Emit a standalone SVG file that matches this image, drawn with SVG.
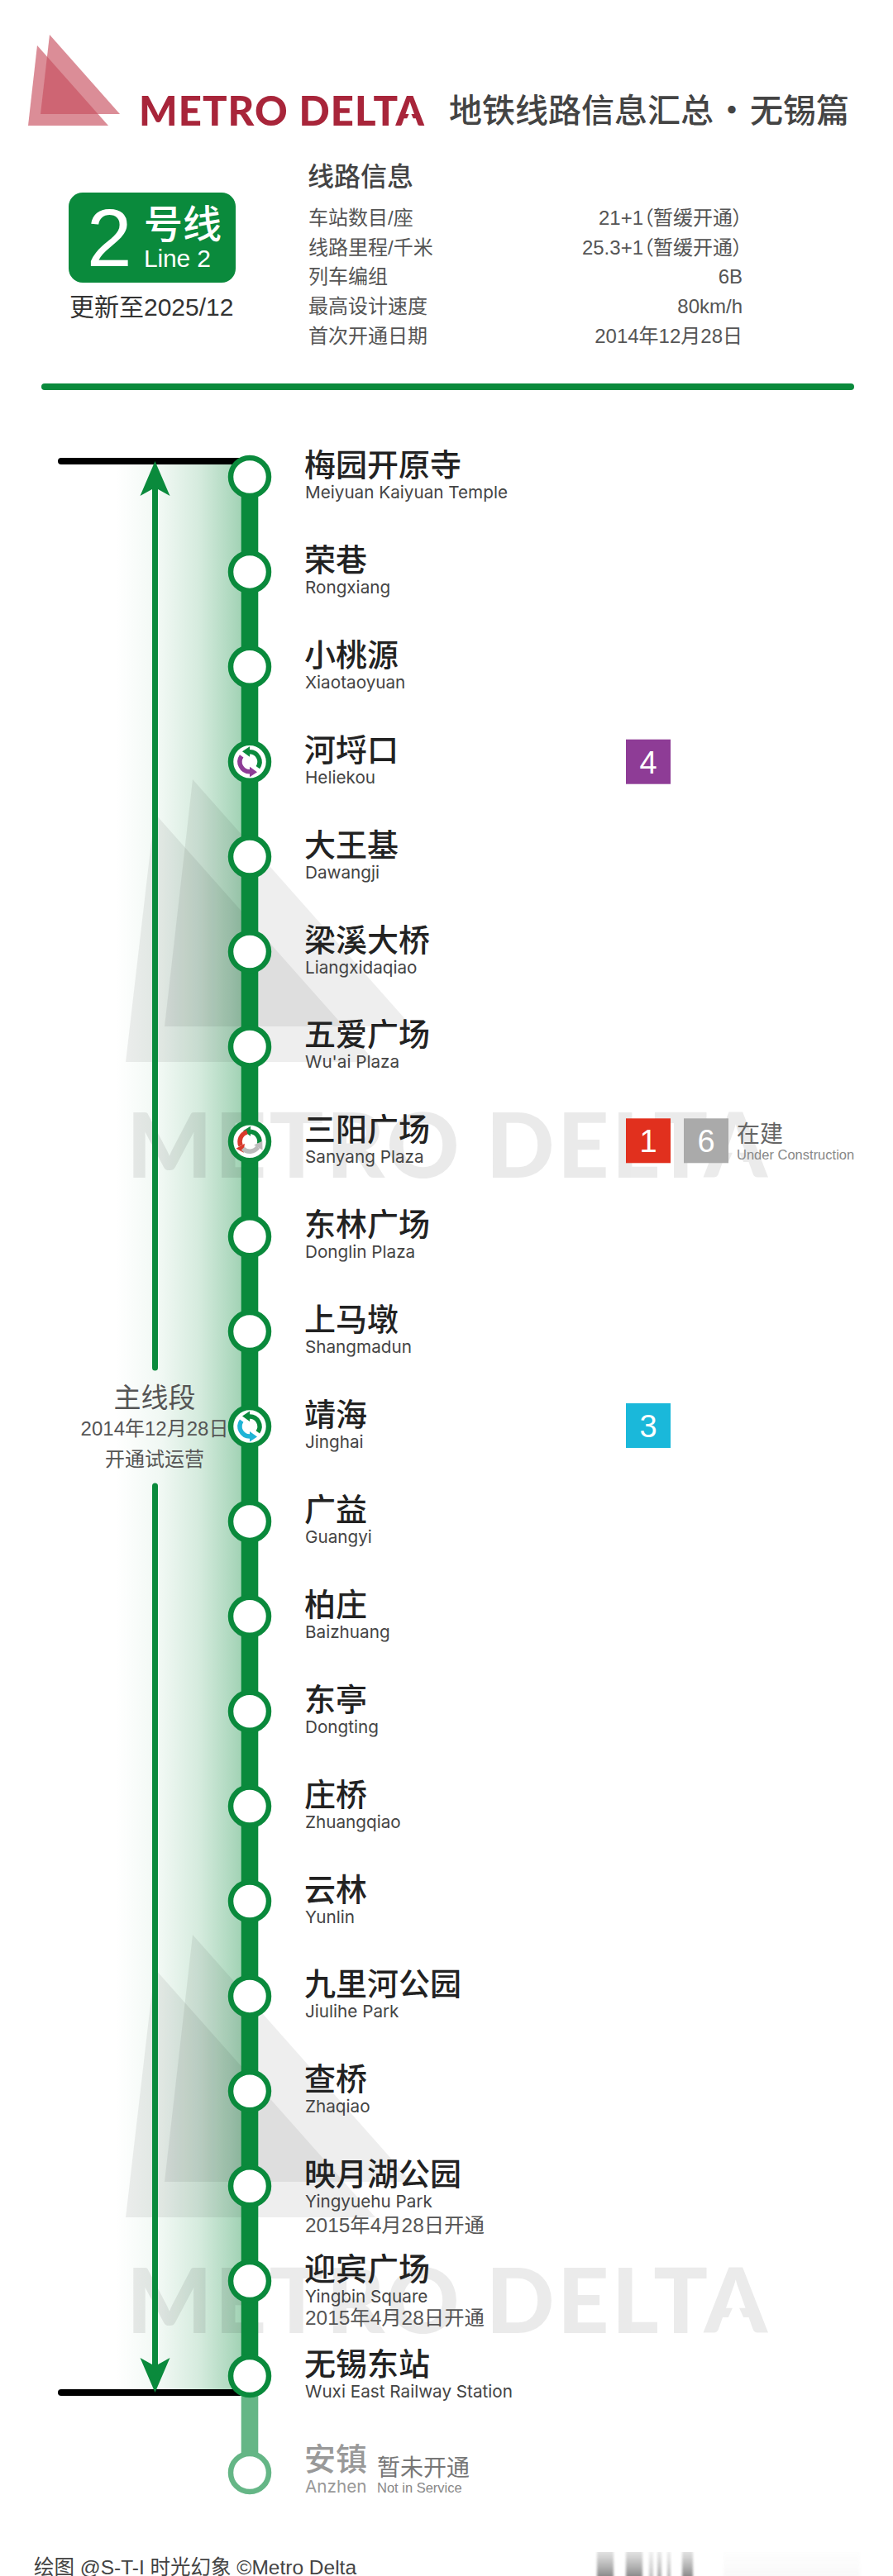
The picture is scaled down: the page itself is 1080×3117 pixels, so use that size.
<svg xmlns="http://www.w3.org/2000/svg" width="1080" height="3117" viewBox="0 0 1080 3117">
<style>
text{font-family:"Liberation Sans","Noto Sans CJK SC",sans-serif}
.cjk{font-family:"Noto Sans CJK SC",sans-serif}
.brand{font-family:Lato,"Liberation Sans",sans-serif;font-weight:900}
.nm{font-family:"Noto Sans CJK SC",sans-serif;font-size:38px;fill:#222;font-weight:500}
.en{font-family:Inter,"Liberation Sans",sans-serif;font-size:20.7px;fill:#444}
.dt{font-size:24.4px;fill:#555}
.lb{font-size:24px;fill:#555}
.vl{font-size:24px;fill:#555;text-anchor:end;font-feature-settings:"palt"}
.ring{fill:#fff;stroke:#0a8a3c;stroke-width:6.5}
.num{font-size:38px;fill:#fff;text-anchor:middle}
.wm{fill:#000;opacity:.065}
.wmt{fill:#000;opacity:.08;font-size:109px}
.blur{fill:url(#fade);filter:url(#soft)}
</style>
<defs>
<linearGradient id="glow" gradientUnits="userSpaceOnUse" x1="140" y1="0" x2="302" y2="0">
<stop offset="0" stop-color="#0a8a3c" stop-opacity="0"/>
<stop offset=".34" stop-color="#0a8a3c" stop-opacity=".06"/>
<stop offset=".62" stop-color="#0a8a3c" stop-opacity=".17"/>
<stop offset="1" stop-color="#0a8a3c" stop-opacity=".42"/>
</linearGradient>
<linearGradient id="fade" x1="0" y1="0" x2="0" y2="1">
<stop offset="0" stop-color="#888" stop-opacity=".25"/>
<stop offset="1" stop-color="#666" stop-opacity=".75"/>
</linearGradient>
<filter id="soft" x="-50%" y="0" width="200%" height="100%"><feGaussianBlur stdDeviation="1.5 0"/></filter>
<clipPath id="noBarBig"><path clip-rule="evenodd" d="M0,1200 H1080 V1500 H0z M872,1426 L908,1426 L892,1390 L888,1390z"/></clipPath>
<clipPath id="noBarSmall"><path clip-rule="evenodd" d="M0,90 H1080 V170 H0z M488,153 L504,153 L497,137 L495,137z"/></clipPath>
<marker id="head" markerUnits="userSpaceOnUse" markerWidth="44" markerHeight="40" viewBox="0 -20 44 40" refX="10" refY="0" orient="auto">
<path d="M0,-18 L42,0 L0,18 L10,0z" fill="#0a8a3c"/>
</marker>
<g id="a2"><path d="M9.8,6.9 A12,12 0 0 0 0,-12" fill="none" stroke-width="5.5"/><path d="M-9,-12.5 L0,-18.5 L0,-6z" stroke="none"/></g>
<g id="a3"><path d="M11.5,3 A12,12 0 0 0 1,-12" fill="none" stroke-width="5.5"/><path d="M-8,-13 L1,-18.5 L1,-6.5z" stroke="none"/></g>
<g id="wmark">
<path class="wm" d="M152,1285 L187,984 L454,1285z"/>
<path class="wm" d="M199,1242 L233,943 L498,1242z"/>
<text class="brand wmt" x="153" y="1425" textLength="775" lengthAdjust="spacing" clip-path="url(#noBarBig)">METRO DELTA</text>
</g>
</defs>
<rect width="1080" height="3117" fill="#fff"/>
<g id="logo">
<path d="M34,152 L45,55 L131,152z" fill="#c8505f" opacity=".65"/>
<path d="M49,138 L60,42 L145,138z" fill="#c8505f" opacity=".65"/>
<text class="brand" x="168" y="152" font-size="49" fill="#a8253a" textLength="345" lengthAdjust="spacing" clip-path="url(#noBarSmall)">METRO DELTA</text>
<text class="cjk" x="543" y="148" font-size="40" font-weight="500" fill="#444" word-spacing="-7">地铁线路信息汇总 · 无锡篇</text>
</g>
<g id="line-badge">
<rect x="83" y="233" width="202" height="109" rx="17" fill="#0a8a3c"/>
<text x="105" y="322" font-size="98" fill="#fff">2</text>
<text class="cjk" x="174" y="288" font-size="47" font-weight="500" fill="#fff">号线</text>
<text x="174" y="323" font-size="30" fill="#fff" textLength="81" lengthAdjust="spacing">Line 2</text>
<text x="84" y="382" font-size="30" fill="#333">更新至2025/12</text>
</g>
<g id="info">
<text class="cjk" x="372" y="225" font-size="32" font-weight="500" fill="#444">线路信息</text>
<text class="lb" x="373" y="272">车站数目/座</text><text class="vl" x="898" y="272">21+1（暂缓开通）</text>
<text class="lb" x="373" y="308">线路里程/千米</text><text class="vl" x="898" y="308">25.3+1（暂缓开通）</text>
<text class="lb" x="373" y="343">列车编组</text><text class="vl" x="898" y="343">6B</text>
<text class="lb" x="373" y="379">最高设计速度</text><text class="vl" x="898" y="379">80km/h</text>
<text class="lb" x="373" y="415">首次开通日期</text><text class="vl" x="898" y="415">2014年12月28日</text>
</g>
<rect id="divider" x="50" y="464" width="983" height="8" rx="4" fill="#0a8a3c"/>
<rect id="glow-band" x="140" y="558" width="162" height="2337" fill="url(#glow)"/>
<g id="watermarks"><use href="#wmark"/><use href="#wmark" y="1398"/></g>
<g id="connectors">
<line x1="74" y1="558" x2="290" y2="558" stroke="#000" stroke-width="8" stroke-linecap="round"/>
<line x1="74" y1="2895" x2="290" y2="2895" stroke="#000" stroke-width="8" stroke-linecap="round"/>
<line x1="187.5" y1="1655" x2="187.5" y2="590" stroke="#0a8a3c" stroke-width="7" stroke-linecap="round" marker-end="url(#head)"/>
<line x1="187.5" y1="1798" x2="187.5" y2="2863" stroke="#0a8a3c" stroke-width="7" stroke-linecap="round" marker-end="url(#head)"/>
<line x1="302" y1="577" x2="302" y2="2875" stroke="#0a8a3c" stroke-width="20.6"/>
<line x1="302" y1="2875" x2="302" y2="2992" stroke="#65b686" stroke-width="20.6"/>
</g>
<g id="span-label" text-anchor="middle">
<text class="cjk" x="187" y="1703" font-size="33" fill="#555">主线段</text>
<text x="187" y="1737" font-size="24" fill="#555">2014年12月28日</text>
<text x="187" y="1774" font-size="24" fill="#555">开通试运营</text>
</g>
<g id="st-meiyuan" transform="translate(0,577)"><circle class="ring" cx="302" r="23"/><text class="nm" x="368" y="-1">梅园开原寺</text><text class="en" x="369" y="26">Meiyuan Kaiyuan Temple</text></g>
<g id="st-rongxiang" transform="translate(0,691.9)"><circle class="ring" cx="302" r="23"/><text class="nm" x="368" y="-1">荣巷</text><text class="en" x="369" y="26">Rongxiang</text></g>
<g id="st-xiaotaoyuan" transform="translate(0,806.8)"><circle class="ring" cx="302" r="23"/><text class="nm" x="368" y="-1">小桃源</text><text class="en" x="369" y="26">Xiaotaoyuan</text></g>
<g id="st-heliekou" transform="translate(0,921.7)"><circle class="ring" cx="302" r="23"/><use href="#a2" x="302" stroke="#0a8a3c" fill="#0a8a3c"/><use href="#a2" transform="translate(302,0) rotate(180)" stroke="#8e3c96" fill="#8e3c96"/><text class="nm" x="368" y="-1">河埒口</text><text class="en" x="369" y="26">Heliekou</text><rect x="757" y="-27" width="54" height="54" fill="#8e3c96"/><text class="num" x="784" y="14">4</text></g>
<g id="st-dawangji" transform="translate(0,1036.6)"><circle class="ring" cx="302" r="23"/><text class="nm" x="368" y="-1">大王基</text><text class="en" x="369" y="26">Dawangji</text></g>
<g id="st-liangxidaqiao" transform="translate(0,1151.5)"><circle class="ring" cx="302" r="23"/><text class="nm" x="368" y="-1">梁溪大桥</text><text class="en" x="369" y="26">Liangxidaqiao</text></g>
<g id="st-wuai" transform="translate(0,1266.4)"><circle class="ring" cx="302" r="23"/><text class="nm" x="368" y="-1">五爱广场</text><text class="en" x="369" y="26">Wu'ai Plaza</text></g>
<g id="st-sanyang" transform="translate(0,1381.3)"><circle class="ring" cx="302" r="23"/><use href="#a3" x="302" stroke="#0a8a3c" fill="#0a8a3c"/><use href="#a3" transform="translate(302,0) rotate(-120)" stroke="#d8392b" fill="#d8392b"/><use href="#a3" transform="translate(302,0) rotate(120)" stroke="#bbb" fill="#bbb"/><text class="nm" x="368" y="-1">三阳广场</text><text class="en" x="369" y="26">Sanyang Plaza</text><rect x="757" y="-28" width="54" height="54" fill="#e1301e"/><text class="num" x="784" y="13">1</text><rect x="827" y="-28" width="54" height="54" fill="#aaa"/><text class="num" x="854" y="13">6</text><text class="cjk" x="891" y="1" font-size="28" fill="#666">在建</text><text x="891" y="22" font-size="16.5" fill="#888">Under Construction</text></g>
<g id="st-donglin" transform="translate(0,1496.2)"><circle class="ring" cx="302" r="23"/><text class="nm" x="368" y="-1">东林广场</text><text class="en" x="369" y="26">Donglin Plaza</text></g>
<g id="st-shangmadun" transform="translate(0,1611.1)"><circle class="ring" cx="302" r="23"/><text class="nm" x="368" y="-1">上马墩</text><text class="en" x="369" y="26">Shangmadun</text></g>
<g id="st-jinghai" transform="translate(0,1726)"><circle class="ring" cx="302" r="23"/><use href="#a2" x="302" stroke="#0a8a3c" fill="#0a8a3c"/><use href="#a2" transform="translate(302,0) rotate(180)" stroke="#1fb4d6" fill="#1fb4d6"/><text class="nm" x="368" y="-1">靖海</text><text class="en" x="369" y="26">Jinghai</text><rect x="757" y="-28" width="54" height="54" fill="#1ab8da"/><text class="num" x="784" y="13">3</text></g>
<g id="st-guangyi" transform="translate(0,1840.9)"><circle class="ring" cx="302" r="23"/><text class="nm" x="368" y="-1">广益</text><text class="en" x="369" y="26">Guangyi</text></g>
<g id="st-baizhuang" transform="translate(0,1955.8)"><circle class="ring" cx="302" r="23"/><text class="nm" x="368" y="-1">柏庄</text><text class="en" x="369" y="26">Baizhuang</text></g>
<g id="st-dongting" transform="translate(0,2070.7)"><circle class="ring" cx="302" r="23"/><text class="nm" x="368" y="-1">东亭</text><text class="en" x="369" y="26">Dongting</text></g>
<g id="st-zhuangqiao" transform="translate(0,2185.6)"><circle class="ring" cx="302" r="23"/><text class="nm" x="368" y="-1">庄桥</text><text class="en" x="369" y="26">Zhuangqiao</text></g>
<g id="st-yunlin" transform="translate(0,2300.5)"><circle class="ring" cx="302" r="23"/><text class="nm" x="368" y="-1">云林</text><text class="en" x="369" y="26">Yunlin</text></g>
<g id="st-jiulihe" transform="translate(0,2415.4)"><circle class="ring" cx="302" r="23"/><text class="nm" x="368" y="-1">九里河公园</text><text class="en" x="369" y="26">Jiulihe Park</text></g>
<g id="st-zhaqiao" transform="translate(0,2530.3)"><circle class="ring" cx="302" r="23"/><text class="nm" x="368" y="-1">查桥</text><text class="en" x="369" y="26">Zhaqiao</text></g>
<g id="st-yingyuehu" transform="translate(0,2645.2)"><circle class="ring" cx="302" r="23"/><text class="nm" x="368" y="-1">映月湖公园</text><text class="en" x="369" y="26">Yingyuehu Park</text><text class="dt" x="369" y="56">2015年4月28日开通</text></g>
<g id="st-yingbin" transform="translate(0,2760.1)"><circle class="ring" cx="302" r="23"/><text class="nm" x="368" y="-1">迎宾广场</text><text class="en" x="369" y="26">Yingbin Square</text><text class="dt" x="369" y="53">2015年4月28日开通</text></g>
<g id="st-wuxieast" transform="translate(0,2875)"><circle class="ring" cx="302" r="23"/><text class="nm" x="368" y="-1">无锡东站</text><text class="en" x="369" y="26">Wuxi East Railway Station</text></g>
<g id="st-anzhen" transform="translate(0,2992)"><circle cx="302" r="23" fill="#fff" stroke="#65b686" stroke-width="6.5"/><text class="nm" x="368" y="-3" style="fill:#999">安镇</text><text class="en" x="369" y="24" style="fill:#999">Anzhen</text><text class="cjk" x="456" y="4" font-size="28" fill="#777">暂未开通</text><text x="456" y="24" font-size="16.5" fill="#888">Not in Service</text></g>
<g id="footer">
<text x="41" y="3115" font-size="24.5" fill="#444">绘图 @S-T-I 时光幻象 ©Metro Delta</text>
<rect class="blur" x="722" y="3088" width="20" height="29"/>
<rect class="blur" x="757" y="3088" width="20" height="29"/>
<rect class="blur" x="785" y="3088" width="5" height="29" opacity=".5"/>
<rect class="blur" x="795" y="3088" width="5" height="29" opacity=".7"/>
<rect class="blur" x="807" y="3088" width="4" height="29" opacity=".6"/>
<rect class="blur" x="825" y="3088" width="13" height="29"/>
<rect class="blur" x="875" y="3088" width="165" height="29" opacity=".05"/>
</g>
</svg>
